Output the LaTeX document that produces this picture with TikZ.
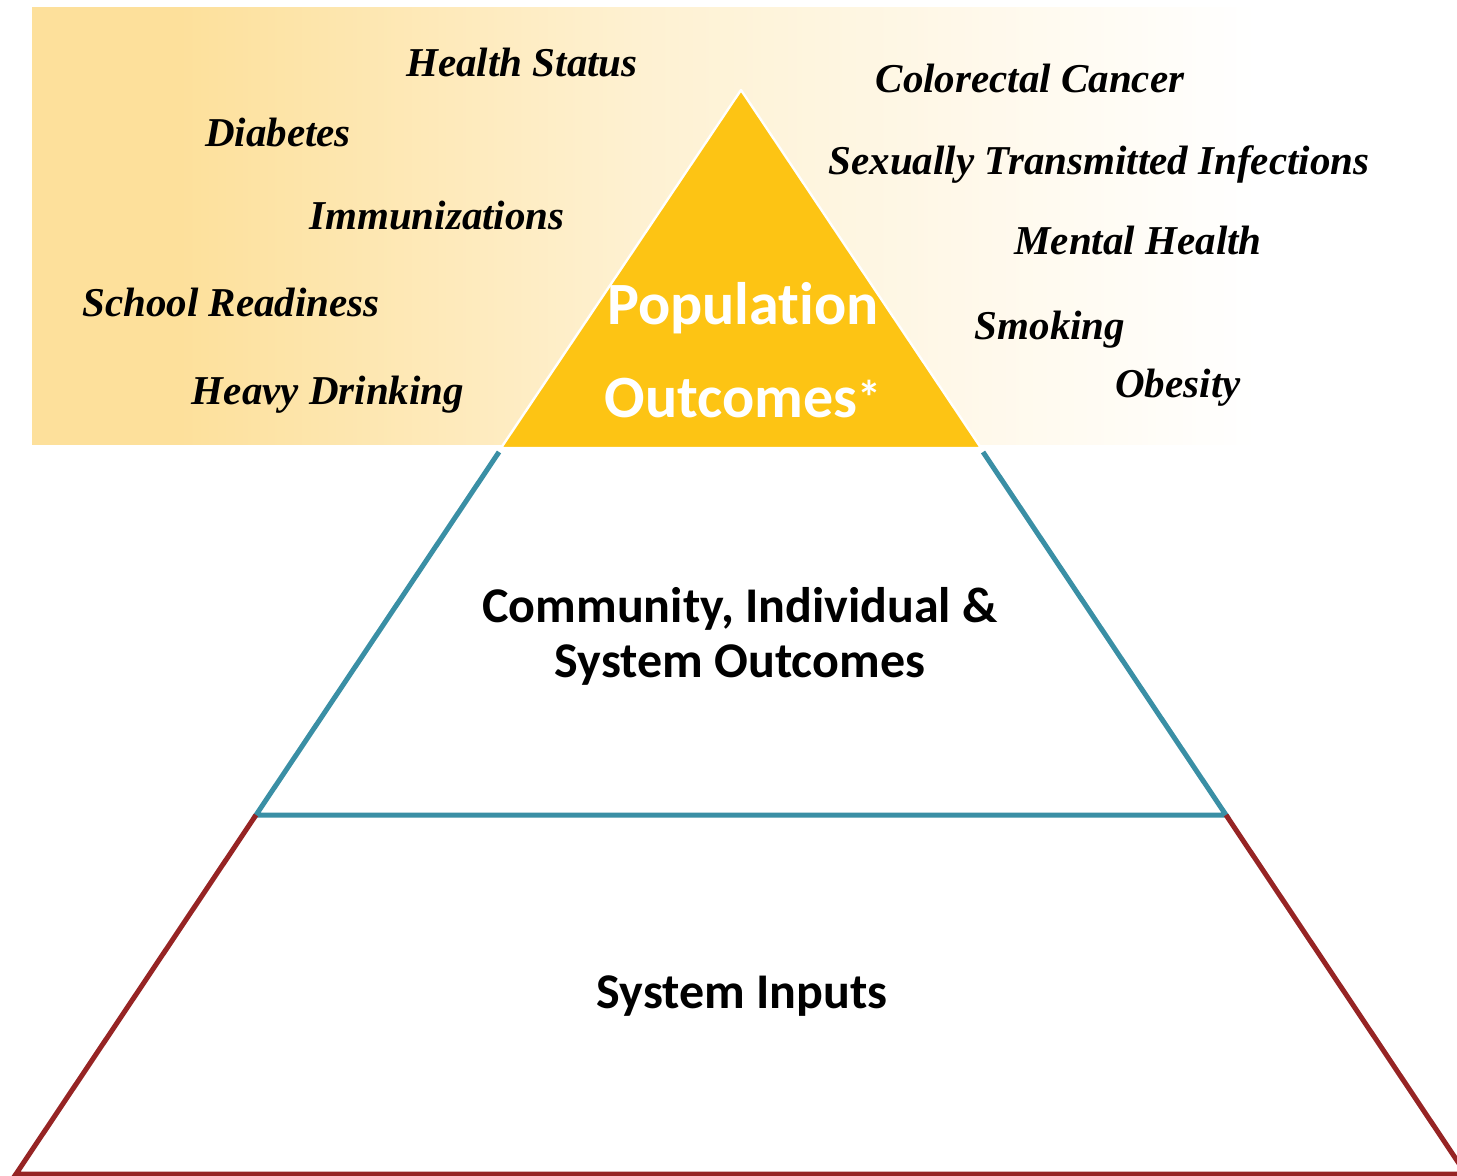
\documentclass[tikz,border=0pt]{standalone}
\usepackage{fontspec}
\setmainfont{Liberation Serif}
\newfontfamily\tierfont[Ligatures=NoCommon]{Carlito}
\definecolor{bandtan}{RGB}{253,224,155}
\definecolor{popgold}{RGB}{253,196,20}
\definecolor{midteal}{RGB}{58,143,165}
\definecolor{basered}{RGB}{150,36,36}
\pgfdeclarehorizontalshading{bandfade}{100bp}{color(0bp)=(bandtan); color(31bp)=(bandtan); color(50bp)=(bandtan!45!white); color(75bp)=(white); color(100bp)=(white)}

\begin{document}
\begin{tikzpicture}[x=0.5pt, y=-0.5pt,
    topic/.style={anchor=base, inner sep=0pt, font=\fontsize{20.5}{24}\selectfont\bfseries\itshape},
    tier/.style={anchor=base, inner sep=0pt, align=center, font=\tierfont\fontsize{25}{27.5}\selectfont\bfseries}]
		%%%%% START %%%%%
		\useasboundingbox (0, 0) rectangle (1457, 1176);
		
		\shade[shading=bandfade] (32, 8) rectangle (1257, 445);
		
		\coordinate (apex) at (741, 90);
		\coordinate (popL) at (501, 448);
		\coordinate (popR) at (981, 448);
		\coordinate (midTL) at (499, 452);
		\coordinate (midTR) at (983, 452);
		\coordinate (midBL) at (256, 815);
		\coordinate (midBR) at (1226, 815);
		\coordinate (baseL) at (16, 1174);
		\coordinate (baseR) at (1466, 1174);
		
		\draw[fill=popgold, draw=white, line width=1.2pt, line join=round] (apex) -- (popL) -- (popR) -- cycle;
		
		\draw[line width=2.5pt, color=midteal] (midTL) -- (midBL) -- (midBR) -- (midTR);
		\draw[line width=2.5pt, color=basered] (midBL) -- (baseL) -- (baseR);
		\draw[line width=2.5pt, color=basered] (midBR) -- (baseR);
		
		% multi-line nodes sit on the baseline of their last line
		\node[tier, text=white, font=\tierfont\fontsize{30}{46.5}\selectfont\bfseries] (pop) at (743, 418) {Population\\Outcomes\raisebox{1.5pt}{\fontsize{24}{24}\selectfont*}};
		\node[tier] (community) at (740, 677) {Community, Individual \&\\System Outcomes};
		\node[tier] (inputs) at (742, 1008) {System Inputs};
		
		\node[topic] (health) at (522, 77) {Health Status};
		\node[topic] (diabetes) at (278, 147) {Diabetes};
		\node[topic] (immun) at (437, 230) {Immunizations};
		\node[topic] (school) at (231, 317) {School Readiness};
		\node[topic] (drinking) at (328, 405) {Heavy Drinking};
		
		\node[topic] (colorectal) at (1030, 93) {Colorectal Cancer};
		\node[topic] (sti) at (1099, 175) {Sexually Transmitted Infections};
		\node[topic] (mental) at (1138, 255) {Mental Health};
		\node[topic] (smoking) at (1050, 340) {Smoking};
		\node[topic] (obesity) at (1178, 398) {Obesity};
		
		%%%%% END %%%%%
\end{tikzpicture}
\end{document}
